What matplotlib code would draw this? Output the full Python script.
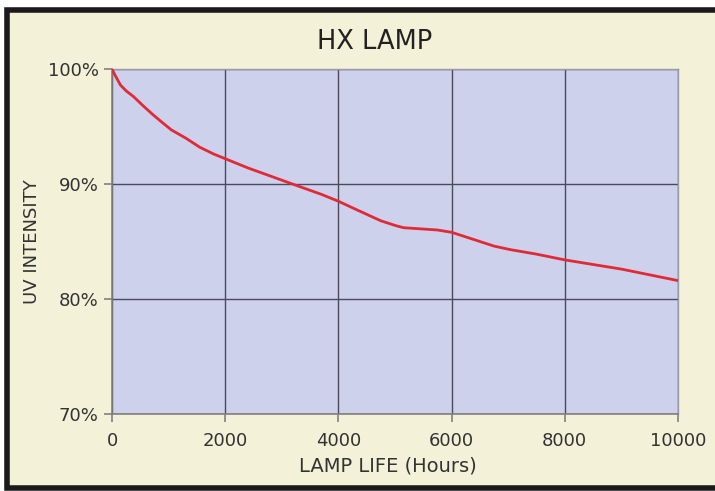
import matplotlib.pyplot as plt
from matplotlib.patches import Rectangle

# UV intensity (%) over lamp life (hours)
hours = [0, 50, 150, 250, 380, 550, 730, 900, 1050, 1300, 1550, 1800, 2000,
         2400, 2850, 3300, 3700, 4000, 4350, 4750, 5000, 5150, 5450, 5750,
         6000, 6250, 6500, 6750, 7030, 7500, 8000, 8500, 9000, 9500, 10000]
intensity = [100, 99.5, 98.6, 98.1, 97.6, 96.8, 96.0, 95.3, 94.7, 94.0, 93.2,
             92.6, 92.2, 91.4, 90.6, 89.8, 89.1, 88.5, 87.7, 86.8, 86.4, 86.2,
             86.1, 86.0, 85.8, 85.4, 85.0, 84.6, 84.3, 83.9, 83.4, 83.0, 82.6,
             82.1, 81.6]

x_ticks = [0, 2000, 4000, 6000, 8000, 10000]
y_ticks = [70, 80, 90, 100]

fig = plt.figure(figsize=(7.15, 4.91), dpi=100)
fig.patch.set_facecolor('white')

# cream panel with dark frame, behind the axes
fig.patches.append(Rectangle((7 / 715, 3 / 491), 720 / 715, 478 / 491,
                             transform=fig.transFigure, facecolor='#f3f1d8',
                             edgecolor='#1a1a1a', linewidth=4, zorder=-5))

ax = fig.add_axes([112 / 715, 1 - 414 / 491, 566 / 715, 345 / 491])
ax.set_facecolor('#cdd1ec')

ax.plot(hours, intensity, color='#e02a36', linewidth=2, zorder=3)

ax.set_xlim(0, 10000)
ax.set_ylim(70, 100)
ax.set_xticks(x_ticks)
ax.set_yticks(y_ticks)
ax.set_yticklabels([f'{v}%' for v in y_ticks])
ax.grid(True, color='#4a4a5a', linewidth=1)
ax.set_axisbelow(True)

for side in ['top', 'right']:
    ax.spines[side].set_color('#9a9aa8')
    ax.spines[side].set_linewidth(1)
for side in ['left', 'bottom']:
    ax.spines[side].set_color('#808080')
    ax.spines[side].set_linewidth(1.2)

ax.tick_params(axis='both', colors='#808080', length=6, width=1.2,
               labelcolor='#333333', labelsize=13)
ax.tick_params(axis='x', pad=7)

# title and x label sit on the panel rather than centred on the axes
fig.text(375 / 715, 1 - 42 / 491, 'HX LAMP', fontsize=18.5, color='#222222',
         ha='center', va='center')
fig.text(388 / 715, 1 - 466 / 491, 'LAMP LIFE (Hours)', fontsize=14,
         color='#333333', ha='center', va='center')
ax.set_ylabel('UV INTENSITY', fontsize=13, color='#333333', labelpad=5)

plt.savefig('out.png', dpi=100, facecolor=fig.get_facecolor())
